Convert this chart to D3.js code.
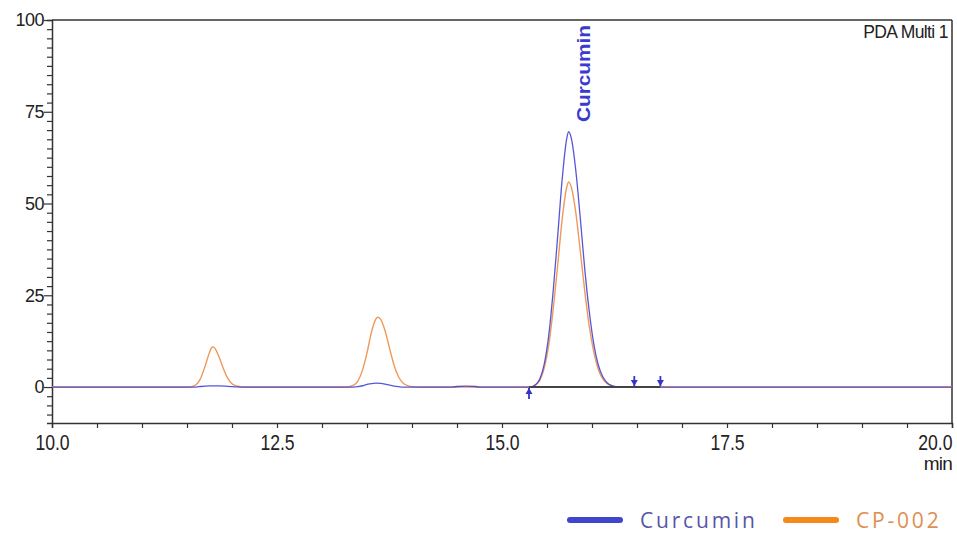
<!DOCTYPE html>
<html><head><meta charset="utf-8">
<script src="https://cdn.jsdelivr.net/npm/d3@7"></script>
<style>
html,body{margin:0;padding:0;background:#fff;}
svg{display:block;}
</style></head>
<body>
<script>
// ---- data ----
const seriesNames = ["Curcumin", "CP-002"];
const curcuminTime = [10.0,11.6,11.65,11.75,11.85,11.95,12.05,12.1,13.35,13.4,13.45,13.5,13.55,13.6,13.65,13.7,13.75,13.8,13.85,13.9,14.45,14.5,14.6,14.7,14.75,15.32,15.37,15.42,15.47,15.52,15.57,15.62,15.67,15.72,15.74,15.77,15.82,15.87,15.92,15.97,16.02,16.07,16.12,16.17,16.22,16.27,16.37,20.0];
const curcuminValue = [0,0,0.15,0.3,0.3,0.2,0.05,0,0,0.1,0.35,0.7,0.95,1.05,1.0,0.8,0.5,0.25,0.1,0,0,0.15,0.25,0.15,0,0,0.6,2.2,6.3,14.2,26.5,41.5,57,67.8,69.6,67.8,59,46,32,20.5,11.7,6.0,2.8,1.1,0.4,0.1,0,0];
const cp002Time = [10.0,11.5,11.55,11.6,11.65,11.7,11.75,11.78,11.8,11.85,11.9,11.95,12.0,12.05,12.1,12.2,13.25,13.3,13.35,13.4,13.45,13.5,13.55,13.6,13.62,13.65,13.7,13.75,13.8,13.85,13.9,13.95,14.0,14.1,15.32,15.37,15.42,15.47,15.52,15.57,15.62,15.67,15.72,15.74,15.77,15.82,15.87,15.92,15.97,16.02,16.07,16.12,16.17,16.22,16.27,16.37,20.0];
const cp002Value = [0,0,0.1,0.6,2.3,5.6,9.4,10.9,10.8,8.6,5.3,2.5,0.9,0.3,0.05,0,0,0.1,0.5,1.7,4.6,9.3,15.0,18.6,19.0,18.5,15.4,10.6,6.0,2.8,1.1,0.4,0.1,0,0,0.5,1.8,5.2,11.5,21.5,33.5,46,54.5,55.9,54.5,47.5,37,26,16.5,9.5,4.8,2.2,0.9,0.3,0.1,0,0];
const xTickLabels = ["10.0","12.5","15.0","17.5","20.0"];
const yTickLabels = ["0","25","50","75","100"];
const integrationStart = 15.30;
const integrationEnds = [16.47, 16.76];
const peakLabel = "Curcumin";
const peakTime = 15.74;

// ---- layout ----
const W = 957, H = 540;
const svg = d3.select("body").append("svg").attr("width", W).attr("height", H);
const x = d3.scaleLinear().domain([10, 20]).range([52, 952]);
const y = d3.scaleLinear().domain([-9.8, 100]).range([423, 20]);
const axisColor = "#333";
const font = "'Liberation Sans', Arial, sans-serif";

// frame: top and right lines
svg.append("line").attr("x1", x(10)).attr("x2", x(20)).attr("y1", y(100)).attr("y2", y(100))
  .attr("stroke", "#666").attr("stroke-width", 2);
svg.append("line").attr("x1", x(20)).attr("x2", x(20)).attr("y1", y(100)).attr("y2", y(-9.8))
  .attr("stroke", axisColor).attr("stroke-width", 1.5);

// Y axis
const yAxis = d3.axisLeft(y).tickValues(d3.range(-7.5, 100.01, 2.5)).tickSizeOuter(0)
  .tickFormat(d => (d % 25 === 0 && d >= 0) ? yTickLabels[d / 25] : "").tickSize(5).tickPadding(2);
const gy = svg.append("g").attr("transform", `translate(${x(10)},0)`).call(yAxis);
gy.select(".domain").attr("stroke", axisColor).attr("stroke-width", 1.5);
gy.selectAll(".tick line").attr("stroke", axisColor).attr("stroke-width", 1.2)
  .attr("x2", d => (d % 25 === 0) ? -8 : -5);
gy.selectAll(".tick text").attr("font-family", font).attr("font-size", 18).attr("fill", "#222")
  .attr("x", -8).attr("letter-spacing", -0.5);

// X axis
const xAxis = d3.axisBottom(x).tickValues(d3.range(10, 20.01, 0.5)).tickSizeOuter(0)
  .tickFormat(d => (Math.abs(d / 2.5 - Math.round(d / 2.5)) < 1e-6) ? xTickLabels[Math.round((d - 10) / 2.5)] : "")
  .tickSize(5).tickPadding(6);
const gx = svg.append("g").attr("transform", `translate(0,${y(-9.8)})`).call(xAxis);
gx.select(".domain").attr("stroke", axisColor).attr("stroke-width", 1.5);
gx.selectAll(".tick line").attr("stroke", axisColor).attr("stroke-width", 1.2);
gx.selectAll(".tick text").attr("font-family", font).attr("font-size", 22).attr("fill", "#222")
  .attr("transform", "scale(0.8,1)")
  .each(function(d) {
    if (d === 20) { d3.select(this).attr("text-anchor", "end").attr("x", 0); }
  });
svg.append("text").attr("x", 952).attr("y", 470).attr("text-anchor", "end")
  .attr("font-family", font).attr("font-size", 19).attr("fill", "#222")
  .attr("letter-spacing", -0.8).text("min");

// PDA Multi 1
svg.append("text").attr("x", 948).attr("y", 38).attr("text-anchor", "end")
  .attr("font-family", font).attr("font-size", 17.5).attr("fill", "#222").attr("letter-spacing", -0.6)
  .text("PDA Multi 1");

// traces
const line = d3.line().x(d => x(d[0])).y(d => y(d[1])).curve(d3.curveMonotoneX);
const cpData = cp002Time.map((t, i) => [t, cp002Value[i]]);
const cuData = curcuminTime.map((t, i) => [t, curcuminValue[i]]);
svg.append("path").datum(cpData).attr("d", line).attr("fill", "none")
  .attr("stroke", "#ee9a5c").attr("stroke-width", 1.4);
svg.append("path").datum(cuData).attr("d", line).attr("fill", "none")
  .attr("stroke", "#3838d0").attr("stroke-width", 1.3).attr("stroke-opacity", 0.85);

// integration baseline
svg.append("line").attr("x1", x(integrationStart)).attr("x2", x(d3.max(integrationEnds)))
  .attr("y1", y(0)).attr("y2", y(0)).attr("stroke", "#444").attr("stroke-width", 2);

// markers
const mk = "#3434c8";
const sx = x(integrationStart);
svg.append("line").attr("x1", sx).attr("x2", sx).attr("y1", y(0) + 1).attr("y2", y(0) + 12).attr("stroke", mk).attr("stroke-width", 1.8);
svg.append("path").attr("d", `M${sx - 3.5},${y(0) + 7} L${sx},${y(0) + 1} L${sx + 3.5},${y(0) + 7} Z`).attr("fill", mk);
integrationEnds.forEach(t => {
  const ex = x(t);
  svg.append("line").attr("x1", ex).attr("x2", ex).attr("y1", y(0) - 11).attr("y2", y(0) - 1).attr("stroke", mk).attr("stroke-width", 1.8);
  svg.append("path").attr("d", `M${ex - 3.5},${y(0) - 7} L${ex},${y(0) - 1} L${ex + 3.5},${y(0) - 7} Z`).attr("fill", mk);
});

// peak label (vertical)
svg.append("text").attr("transform", `translate(${x(peakTime) + 21},${122}) rotate(-90)`)
  .attr("font-family", font).attr("font-size", 19).attr("font-weight", "bold").attr("fill", "#3a3ad0")
  .attr("textLength", 97).attr("lengthAdjust", "spacingAndGlyphs").text(peakLabel);

// legend
const legendColors = ["#3f46cc", "#f5891c"];
const legendText = ["#5656a8", "#dc9050"];
const legendX = [570, 786];
const legendSpacing = [2.8, 2.8];
seriesNames.forEach((s, i) => {
  svg.append("line").attr("x1", legendX[i]).attr("x2", legendX[i] + 50).attr("y1", 520).attr("y2", 520)
    .attr("stroke", legendColors[i]).attr("stroke-width", 6).attr("stroke-linecap", "round");
  svg.append("text").attr("x", legendX[i] + 70).attr("y", 528)
    .attr("font-family", "'Open Sans', 'Noto Sans', sans-serif").attr("font-size", 21).attr("fill", legendText[i])
    .attr("letter-spacing", legendSpacing[i]).text(s);
});
</script>
</body></html>
